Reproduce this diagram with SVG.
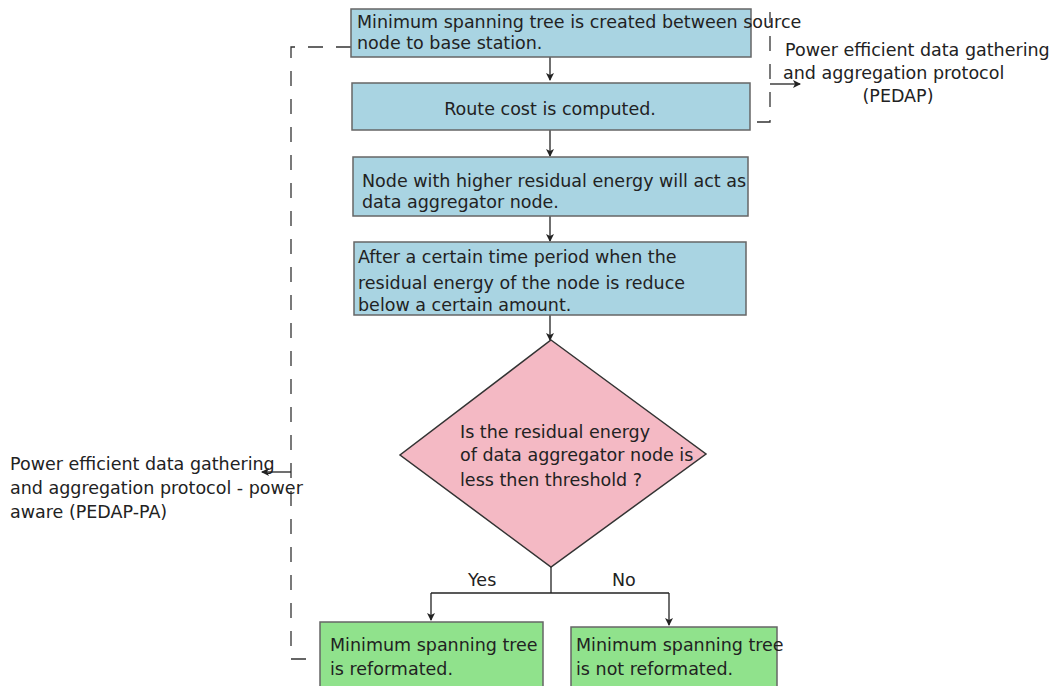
<svg xmlns="http://www.w3.org/2000/svg" width="1051" height="686" viewBox="0 0 1051 686">
<defs>
<marker id="ah" markerWidth="8" markerHeight="8" refX="7" refY="4" orient="auto" markerUnits="userSpaceOnUse"><path d="M0,0 L8,4 L0,8 L2,4 Z" fill="#222"/></marker>
<style>
.t{font-family:"DejaVu Sans","Liberation Sans",sans-serif;font-size:17.5px;fill:#222}
.blue{fill:#a9d4e2;stroke:#666;stroke-width:1.5}
.pink{fill:#f4b9c4;stroke:#333;stroke-width:1.5}
.green{fill:#90e28c;stroke:#666;stroke-width:1.5}
.c{fill:none;stroke:#222;stroke-width:1.3}
.d{fill:none;stroke:#333;stroke-width:1.3;stroke-dasharray:15,13}
</style>
</defs>
<rect width="1051" height="686" fill="#fff"/>
<g id="connectors">
<line class="c" x1="550" y1="57" x2="550" y2="80" marker-end="url(#ah)"/>
<line class="c" x1="550" y1="130" x2="550" y2="156" marker-end="url(#ah)"/>
<line class="c" x1="550" y1="216" x2="550" y2="241" marker-end="url(#ah)"/>
<line class="c" x1="550" y1="315" x2="550" y2="340" marker-end="url(#ah)"/>
<polyline class="c" points="551,567 551,593"/>
<polyline class="c" points="431,593 669,593"/>
<line class="c" x1="431" y1="593" x2="431" y2="620" marker-end="url(#ah)"/>
<line class="c" x1="669" y1="593" x2="669" y2="625" marker-end="url(#ah)"/>
<polyline class="d" points="351,47 291,47 291,659 307,659"/>
<line class="c" x1="291" y1="472" x2="262" y2="472" marker-end="url(#ah)"/>
<polyline class="d" points="757,122 770,122 770,12"/>
<line class="c" x1="770" y1="84" x2="800" y2="84" marker-end="url(#ah)"/>
</g>
<g id="n1"><rect class="blue" x="351" y="9" width="400" height="48"/>
<text class="t" x="357" y="28">Minimum spanning tree is created between source</text>
<text class="t" x="357" y="49">node to base station.</text></g>
<g id="n2"><rect class="blue" x="352" y="83" width="398" height="47"/>
<text class="t" x="550" y="115" text-anchor="middle">Route cost is computed.</text></g>
<g id="n3"><rect class="blue" x="353" y="157" width="395" height="59"/>
<text class="t" x="362" y="187">Node with higher residual energy will act as</text>
<text class="t" x="362" y="208">data aggregator node.</text></g>
<g id="n4"><rect class="blue" x="354" y="242" width="392" height="73"/>
<text class="t" x="358" y="263">After a certain time period when the</text>
<text class="t" x="358" y="289">residual energy of the node is reduce</text>
<text class="t" x="358" y="311">below a certain amount.</text></g>
<g id="n5"><polygon class="pink" points="551,340 706,454 551,567 400,455"/>
<text class="t" x="460" y="438">Is the residual energy</text>
<text class="t" x="460" y="461">of data aggregator node is</text>
<text class="t" x="460" y="486">less then threshold ?</text></g>
<g id="n6"><rect class="green" x="320" y="622" width="223" height="70"/>
<text class="t" x="330" y="651">Minimum spanning tree</text>
<text class="t" x="330" y="675">is reformated.</text></g>
<g id="n7"><rect class="green" x="571" y="627" width="206" height="65"/>
<text class="t" x="576" y="651">Minimum spanning tree</text>
<text class="t" x="576" y="675">is not reformated.</text></g>
<g id="labels">
<text class="t" x="468" y="586">Yes</text>
<text class="t" x="612" y="586">No</text>
<text class="t" x="785" y="56">Power efficient data gathering</text>
<text class="t" x="783" y="79">and aggregation protocol</text>
<text class="t" x="898" y="102" text-anchor="middle">(PEDAP)</text>
<text class="t" x="10" y="470">Power efficient data gathering</text>
<text class="t" x="10" y="494">and aggregation protocol - power</text>
<text class="t" x="10" y="518">aware (PEDAP-PA)</text>
</g>
</svg>
